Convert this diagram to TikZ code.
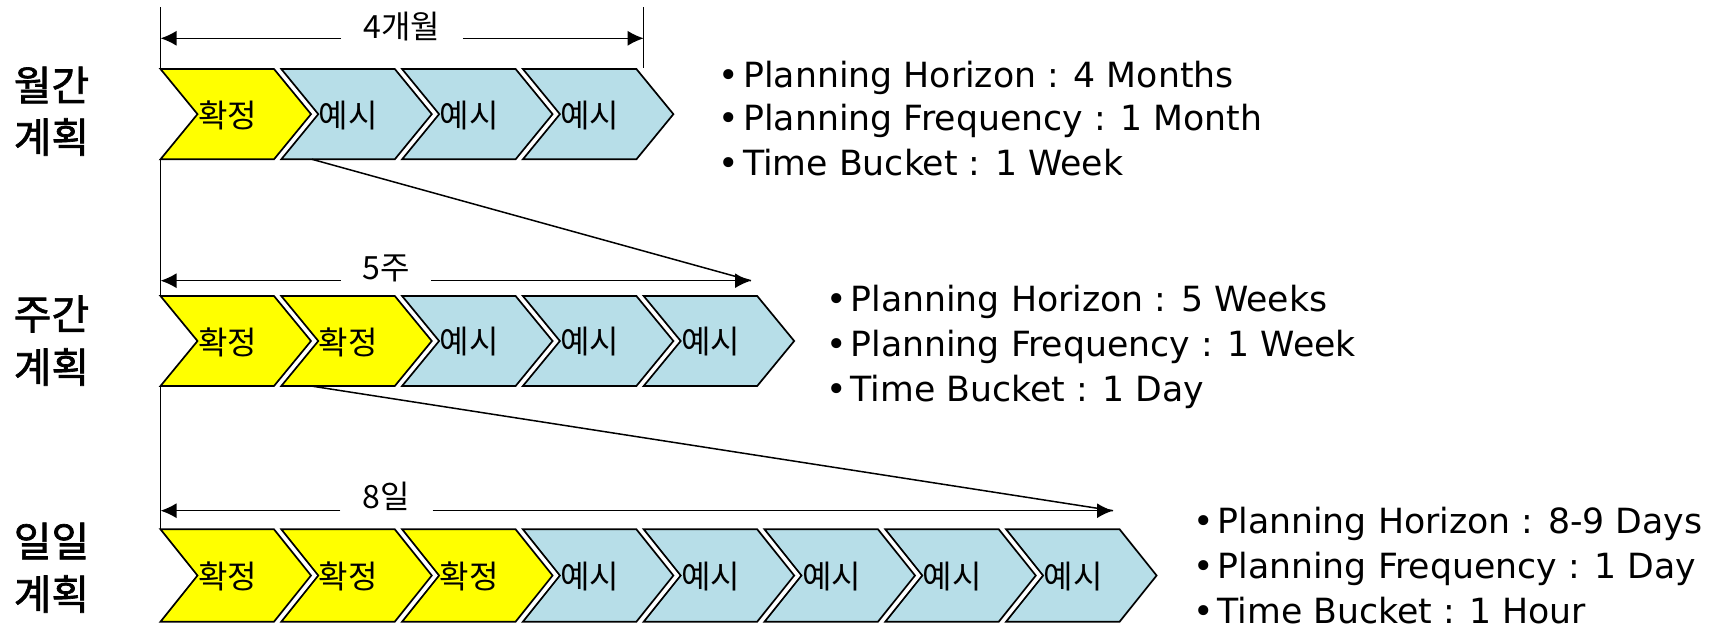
\documentclass[tikz,border=0pt]{standalone}
\usepackage{fontspec}
\setmainfont{DejaVu Sans}
\newfontfamily\krfont{Noto Sans CJK KR}
\newfontfamily\krlabelfont[FakeBold=1.6]{Noto Sans CJK KR}
\usetikzlibrary{arrows.meta}

\definecolor{firmfill}{RGB}{255,255,0}
\definecolor{fcstfill}{RGB}{183,222,232}

% one chevron: name, left x, top y, bottom y, style, label
\newcommand\drawchevron[6]{%
  \pgfmathsetmacro\chevmid{(#3+#4)/2}%
  \draw[#5] (#2,#3) -- (#2+113.5,#3) -- (#2+150.5,\chevmid) -- (#2+113.5,#4)
        -- (#2,#4) -- (#2+37,\chevmid) -- cycle;
  \node[chevtext] (#1) at (#2+67,\chevmid+1) {#6};
}
% bullet with a little extra room before the text
\newcommand\bul{•\kern4pt}

\begin{document}
\begin{tikzpicture}[x=1pt,y=-1pt,
  chev/.style={draw=black, line width=1.7pt, line join=miter},
  firm/.style={chev, fill=firmfill},
  fcst/.style={chev, fill=fcstfill},
  chevtext/.style={font=\krfont\fontsize{32}{32}\selectfont, inner sep=0pt},
  rowlabel/.style={font=\krlabelfont\fontsize{41}{41}\selectfont, inner sep=0pt},
  dimtext/.style={font=\krfont\fontsize{32}{32}\selectfont, inner sep=0pt},
  info/.style={font=\fontsize{34.7}{34.7}\selectfont, inner sep=0pt, anchor=base west},
  guide/.style={line width=1.5pt},
  dimarrow/.style={guide, -{Latex[length=16pt,width=15pt]}},
]
\useasboundingbox (0,0) rectangle (1727,631);

% ---------- row labels ----------
\node[rowlabel] (m1) at (51.5,85) {월간};
\node[rowlabel] (m2) at (51.5,137) {계획};
\node[rowlabel] (w1) at (51.5,314) {주간};
\node[rowlabel] (w2) at (51.5,367) {계획};
\node[rowlabel] (d1) at (51.5,541) {일일};
\node[rowlabel] (d2) at (51.5,594) {계획};

% ---------- chevron rows ----------
\foreach \i/\kind/\txt in {0/firm/확정,1/fcst/예시,2/fcst/예시,3/fcst/예시}
  {\drawchevron{ma\i}{160.5+\i*120.8}{69}{159.3}{\kind}{\txt}}
\foreach \i/\kind/\txt in {0/firm/확정,1/firm/확정,2/fcst/예시,3/fcst/예시,4/fcst/예시}
  {\drawchevron{wa\i}{160.5+\i*120.8}{296}{386}{\kind}{\txt}}
\foreach \i/\kind/\txt in {0/firm/확정,1/firm/확정,2/firm/확정,3/fcst/예시,4/fcst/예시,5/fcst/예시,6/fcst/예시,7/fcst/예시}
  {\drawchevron{da\i}{160.5+\i*120.8}{529.3}{621.7}{\kind}{\txt}}

% ---------- guide points ----------
\coordinate (topL) at (160.5,7.3);
\coordinate (topR) at (643.7,7.3);
\coordinate (r1TL) at (160.5,69);
\coordinate (r1TR) at (643.7,68.3);
\coordinate (r1BL) at (160.5,159.3);
\coordinate (r2TL) at (160.5,296);
\coordinate (r2BL) at (160.5,386);
\coordinate (r3TL) at (160.5,529.3);
\coordinate (r1cut) at (312,159.3);
\coordinate (r2cut) at (311,386);
\coordinate (h1L) at (160.5,38.3);
\coordinate (h1R) at (643.7,38.3);
\coordinate (h2L) at (160.5,280.7);
\coordinate (h2R) at (751,280.7);
\coordinate (h3L) at (160.5,510.7);
\coordinate (h3R) at (1113,510.7);

% vertical guide and end tick
\draw[guide] (topL) -- (r1TL);
\draw[guide] (r1BL) -- (r2TL);
\draw[guide] (r2BL) -- (r3TL);
\draw[guide] (topR) -- (r1TR);

% horizon dimension lines
\node[dimtext, minimum width=121.5pt] (hz1) at (402,27) {4개월};
\draw[dimarrow] (hz1.west |- h1L) -- (h1L);
\draw[dimarrow] (hz1.east |- h1R) -- (h1R);

\node[dimtext, minimum width=90pt] (hz2) at (386,268.5) {5주};
\draw[dimarrow] (hz2.west |- h2L) -- (h2L);
\draw[dimarrow] (hz2.east |- h2R) -- (h2R);

\node[dimtext, minimum width=92pt] (hz3) at (386.5,496.5) {8일};
\draw[dimarrow] (hz3.west |- h3L) -- (h3L);
\draw[dimarrow] (hz3.east |- h3R) -- (h3R);

% zoom-in lines
\draw[guide] (r1cut) -- (h2R);
\draw[guide] (r2cut) -- (h3R);

% ---------- parameters ----------
\node[info] (p1a) at (718.5,87.6)  {\bul Planning Horizon : 4 Months};
\node[info] (p1b) at (718.5,130.6) {\bul Planning Frequency : 1 Month};
\node[info] (p1c) at (718.5,175.6) {\bul Time Bucket : 1 Week};

\node[info] (p2a) at (825.8,311)  {\bul Planning Horizon : 5 Weeks};
\node[info] (p2b) at (825.8,356)  {\bul Planning Frequency : 1 Week};
\node[info] (p2c) at (825.8,401)  {\bul Time Bucket : 1 Day};

\node[info] (p3a) at (1192.8,533.6) {\bul Planning Horizon : 8-9 Days};
\node[info] (p3b) at (1192.8,578.6) {\bul Planning Frequency : 1 Day};
\node[info] (p3c) at (1192.8,623.6) {\bul Time Bucket : 1 Hour};
\end{tikzpicture}
\end{document}
